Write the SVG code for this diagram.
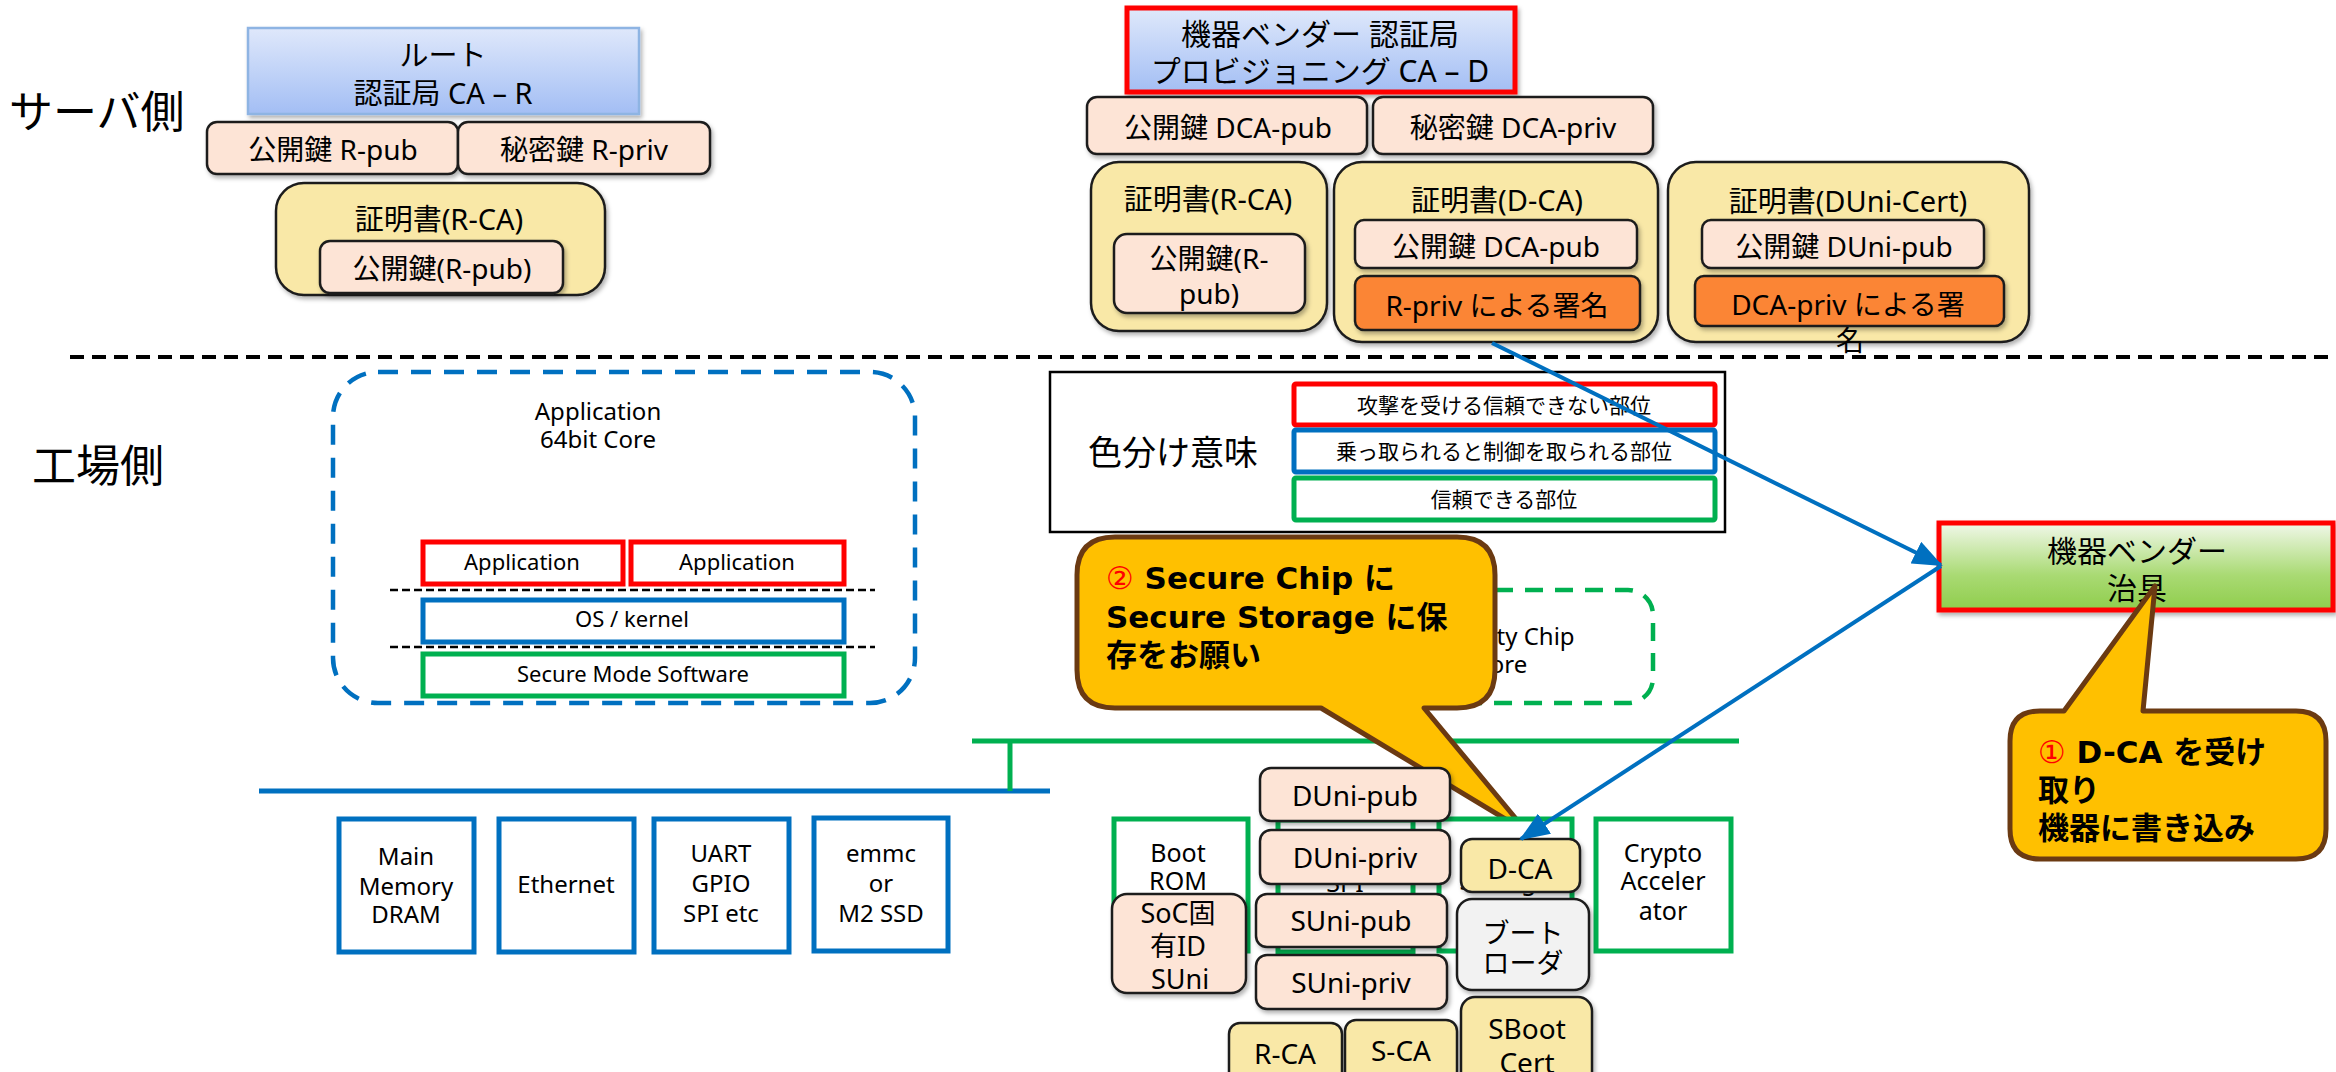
<svg xmlns="http://www.w3.org/2000/svg" width="2336" height="1072" viewBox="0 0 2336 1072">
<defs>
<linearGradient id="gBlue" x1="0" y1="0" x2="0" y2="1"><stop offset="0" stop-color="#dfe8fb"/><stop offset="1" stop-color="#a3bef4"/></linearGradient>
<linearGradient id="gGreen" x1="0" y1="0" x2="0" y2="1"><stop offset="0" stop-color="#f1f8ea"/><stop offset="0.6" stop-color="#a9da73"/><stop offset="1" stop-color="#8fcd4c"/></linearGradient>
<filter id="sh" x="-10%" y="-10%" width="130%" height="140%"><feDropShadow dx="2" dy="3" stdDeviation="2" flood-color="#000" flood-opacity="0.3"/></filter>
<marker id="ah" markerUnits="userSpaceOnUse" viewBox="0 0 30 24" refX="28" refY="12" markerWidth="30" markerHeight="24" orient="auto"><path d="M0,0 L30,12 L0,24 Z" fill="#0070c0"/></marker>
</defs>
<style>
.t{font-family:"Noto Sans","Noto Sans CJK JP",sans-serif;fill:#000;text-anchor:middle;dominant-baseline:central}
.s{text-anchor:start}
.key{fill:#fde4d6;stroke:#1e1e1e;stroke-width:2.5;filter:url(#sh)}
.cert{fill:#f9e8a7;stroke:#1e1e1e;stroke-width:2.5;filter:url(#sh)}
.sig{fill:#fb8535;stroke:#1e1e1e;stroke-width:2.5;filter:url(#sh)}
.gray{fill:#f2f2f2;stroke:#1e1e1e;stroke-width:2.5;filter:url(#sh)}
.red{fill:#fff;stroke:#ff0000;stroke-width:5}
.blu{fill:#fff;stroke:#0070c0;stroke-width:5}
.grn{fill:#fff;stroke:#00b050;stroke-width:5}
.call{fill:#ffc000;stroke:#6b3a12;stroke-width:5;stroke-linejoin:round}
.cb{font-family:"DejaVu Sans","Noto Sans CJK JP",sans-serif;font-weight:bold;fill:#000;dominant-baseline:central}
.conn{stroke:#0070c0;stroke-width:4;fill:none;marker-end:url(#ah)}
</style>
<rect width="2336" height="1072" fill="#fff"/>

<g id="labels">
<text class="t s" x="9" y="111" font-size="44">サーバ側</text>
<text class="t s" x="32" y="465" font-size="44">工場側</text>
</g>

<line id="separator" x1="70" y1="357" x2="2336" y2="357" stroke="#000" stroke-width="4" stroke-dasharray="14 8"/>

<g id="root-ca">
<rect x="248" y="28" width="391" height="86" fill="url(#gBlue)" stroke="#8eb4e3" stroke-width="2.5" filter="url(#sh)"/>
<text class="t" x="443" y="54" font-size="29">ルート</text>
<text class="t" x="443" y="92" font-size="29">認証局 CA – R</text>
</g>
<g id="r-pub"><rect class="key" x="207" y="122" width="251" height="52" rx="10"/><text class="t" x="333" y="149" font-size="28">公開鍵 R-pub</text></g>
<g id="r-priv"><rect class="key" x="458" y="122" width="252" height="52" rx="10"/><text class="t" x="584" y="149" font-size="28">秘密鍵 R-priv</text></g>
<g id="cert-rca">
<rect class="cert" x="276" y="183" width="329" height="112" rx="28"/>
<text class="t" x="439" y="218" font-size="29">証明書(R-CA)</text>
<rect class="key" x="320" y="241" width="243" height="52" rx="10"/>
<text class="t" x="442" y="268" font-size="28">公開鍵(R-pub)</text>
</g>

<g id="vendor-ca">
<rect x="1127" y="8" width="388" height="84" fill="url(#gBlue)" stroke="#ff0000" stroke-width="5" filter="url(#sh)"/>
<text class="t" x="1320" y="33" font-size="30">機器ベンダー 認証局</text>
<text class="t" x="1320" y="70" font-size="30">プロビジョニング CA – D</text>
</g>
<g id="dca-pub"><rect class="key" x="1087" y="97" width="280" height="57" rx="10"/><text class="t" x="1228" y="127" font-size="28">公開鍵 DCA-pub</text></g>
<g id="dca-priv"><rect class="key" x="1373" y="97" width="280" height="57" rx="10"/><text class="t" x="1513" y="127" font-size="28">秘密鍵 DCA-priv</text></g>
<g id="cert-rca-2">
<rect class="cert" x="1091" y="162" width="236" height="169" rx="28"/>
<text class="t" x="1208" y="198" font-size="29">証明書(R-CA)</text>
<rect class="key" x="1114" y="234" width="191" height="79" rx="13"/>
<text class="t" x="1209" y="258" font-size="28">公開鍵(R-</text>
<text class="t" x="1209" y="293" font-size="28">pub)</text>
</g>
<g id="cert-dca">
<rect class="cert" x="1334" y="162" width="324" height="180" rx="28"/>
<text class="t" x="1497" y="199" font-size="29">証明書(D-CA)</text>
<rect class="key" x="1355" y="220" width="282" height="48" rx="9"/>
<text class="t" x="1496" y="246" font-size="28">公開鍵 DCA-pub</text>
<rect class="sig" x="1355" y="276" width="285" height="54" rx="9"/>
<text class="t" x="1497" y="305" font-size="28">R-priv による署名</text>
</g>
<g id="cert-duni">
<rect class="cert" x="1668" y="162" width="361" height="180" rx="28"/>
<text class="t" x="1848" y="200" font-size="29">証明書(DUni-Cert)</text>
<rect class="key" x="1702" y="220" width="282" height="48" rx="9"/>
<text class="t" x="1844" y="246" font-size="28">公開鍵 DUni-pub</text>
<rect class="sig" x="1695" y="276" width="309" height="50" rx="9"/>
<text class="t" x="1848" y="304" font-size="28">DCA-priv による署</text>
<text class="t" x="1850" y="340" font-size="28">名</text>
</g>

<g id="legend">
<rect x="1050" y="372" width="675" height="160" fill="#fff" stroke="#000" stroke-width="2.5"/>
<text class="t" x="1173" y="452" font-size="34">色分け意味</text>
<rect class="red" x="1294" y="384" width="421" height="41" rx="2"/>
<text class="t" x="1504" y="405" font-size="21">攻撃を受ける信頼できない部位</text>
<rect class="blu" x="1294" y="430" width="421" height="42" rx="2"/>
<text class="t" x="1504" y="451" font-size="21">乗っ取られると制御を取られる部位</text>
<rect class="grn" x="1294" y="478" width="421" height="42" rx="2"/>
<text class="t" x="1504" y="499" font-size="21">信頼できる部位</text>
</g>

<g id="vendor-tool">
<rect x="1939" y="523" width="394" height="87" fill="url(#gGreen)" stroke="#ff0000" stroke-width="5" filter="url(#sh)"/>
<text class="t" x="2137" y="550" font-size="30">機器ベンダー</text>
<text class="t" x="2137" y="587" font-size="30">治具</text>
</g>

<g id="app-core">
<rect x="333" y="372" width="582" height="331" rx="45" fill="none" stroke="#0070c0" stroke-width="4.5" stroke-dasharray="20 13"/>
<text class="t" x="598" y="410" font-size="24">Application</text>
<text class="t" x="598" y="438" font-size="24">64bit Core</text>
<rect class="red" x="423" y="542" width="200" height="42" stroke-width="4"/>
<text class="t" x="522" y="561" font-size="22">Application</text>
<rect class="red" x="631" y="542" width="213" height="42" stroke-width="4"/>
<text class="t" x="737" y="561" font-size="22">Application</text>
<line x1="390" y1="590" x2="875" y2="590" stroke="#000" stroke-width="2.5" stroke-dasharray="8 4"/>
<rect class="blu" x="423" y="600" width="421" height="42" stroke-width="4"/>
<text class="t" x="632" y="618" font-size="22">OS / kernel</text>
<line x1="390" y1="647" x2="875" y2="647" stroke="#000" stroke-width="2.5" stroke-dasharray="8 4"/>
<rect class="grn" x="423" y="654" width="421" height="42" stroke-width="4"/>
<text class="t" x="633" y="673" font-size="22">Secure Mode Software</text>
</g>

<g id="buses">
<line x1="259" y1="791" x2="1050" y2="791" stroke="#0070c0" stroke-width="5"/>
<line x1="972" y1="741" x2="1739" y2="741" stroke="#00b050" stroke-width="5"/>
<line x1="1010" y1="741" x2="1010" y2="791" stroke="#00b050" stroke-width="5"/>
</g>

<g id="main-memory"><rect class="blu" x="339" y="819" width="135" height="133"/><text class="t" x="406" y="855" font-size="24">Main</text><text class="t" x="406" y="885" font-size="24">Memory</text><text class="t" x="406" y="913" font-size="24">DRAM</text></g>
<g id="ethernet"><rect class="blu" x="499" y="819" width="135" height="133"/><text class="t" x="566" y="883" font-size="24">Ethernet</text></g>
<g id="uart"><rect class="blu" x="654" y="819" width="135" height="133"/><text class="t" x="721" y="852" font-size="24">UART</text><text class="t" x="721" y="882" font-size="24">GPIO</text><text class="t" x="721" y="912" font-size="24">SPI etc</text></g>
<g id="emmc"><rect class="blu" x="814" y="818" width="134" height="133"/><text class="t" x="881" y="852" font-size="24">emmc</text><text class="t" x="881" y="882" font-size="24">or</text><text class="t" x="881" y="912" font-size="24">M2 SSD</text></g>

<g id="security-chip">
<rect x="1350" y="590" width="303" height="113" rx="25" fill="none" stroke="#00b050" stroke-width="4.5" stroke-dasharray="18 12"/>
<text class="t" x="1501" y="635" font-size="24">Security Chip</text>
<text class="t" x="1501" y="663" font-size="24">Core</text>
</g>

<g id="callout-2">
<path class="call" d="M1115,537 H1457 Q1495,537 1495,575 V670 Q1495,708 1457,708 H1424 L1527,832 L1321,708 H1115 Q1077,708 1077,670 V575 Q1077,537 1115,537 Z"/>
<text class="cb" x="1106" y="578" font-size="31"><tspan fill="#ff0000" font-weight="normal">②</tspan> Secure Chip に</text>
<text class="cb" x="1106" y="617" font-size="31">Secure Storage に保</text>
<text class="cb" x="1106" y="655" font-size="31">存をお願い</text>
</g>

<g id="boot-rom"><rect class="grn" x="1114" y="819" width="134" height="132"/><text class="t" x="1178" y="852" font-size="25">Boot</text><text class="t" x="1178" y="880" font-size="25">ROM</text></g>
<g id="spi"><rect class="grn" x="1278" y="820" width="135" height="132"/><text class="t" x="1345" y="882" font-size="25">SPI</text></g>
<g id="secure-storage"><rect class="grn" x="1439" y="819" width="133" height="132"/><text class="t" x="1505" y="880" font-size="25">Storage</text></g>
<g id="crypto"><rect class="grn" x="1596" y="819" width="135" height="132"/><text class="t" x="1663" y="852" font-size="25">Crypto</text><text class="t" x="1663" y="880" font-size="25">Acceler</text><text class="t" x="1663" y="910" font-size="25">ator</text></g>

<g id="duni-pub"><rect class="key" x="1260" y="768" width="190" height="53" rx="11"/><text class="t" x="1355" y="795" font-size="28">DUni-pub</text></g>
<g id="duni-priv"><rect class="key" x="1260" y="830" width="190" height="54" rx="11"/><text class="t" x="1355" y="857" font-size="28">DUni-priv</text></g>
<g id="suni-pub"><rect class="key" x="1256" y="894" width="191" height="53" rx="11"/><text class="t" x="1351" y="920" font-size="28">SUni-pub</text></g>
<g id="suni-priv"><rect class="key" x="1256" y="955" width="191" height="54" rx="11"/><text class="t" x="1351" y="982" font-size="28">SUni-priv</text></g>
<g id="soc-id"><rect class="key" x="1112" y="894" width="134" height="99" rx="15"/><text class="t" x="1178" y="912" font-size="27">SoC固</text><text class="t" x="1178" y="945" font-size="27">有ID</text><text class="t" x="1180" y="978" font-size="27">SUni</text></g>
<g id="r-ca"><rect class="cert" x="1229" y="1023" width="113" height="62" rx="11"/><text class="t" x="1285" y="1053" font-size="28">R-CA</text></g>
<g id="s-ca"><rect class="cert" x="1345" y="1020" width="112" height="65" rx="11"/><text class="t" x="1401" y="1050" font-size="28">S-CA</text></g>
<g id="sboot-cert"><rect class="cert" x="1461" y="997" width="131" height="90" rx="14"/><text class="t" x="1527" y="1028" font-size="28">SBoot</text><text class="t" x="1527" y="1062" font-size="28">Cert</text></g>
<g id="d-ca"><rect class="cert" x="1461" y="839" width="119" height="53" rx="11"/><text class="t" x="1520" y="868" font-size="28">D-CA</text></g>
<g id="bootloader"><rect class="gray" x="1457" y="899" width="132" height="91" rx="15"/><text class="t" x="1523" y="932" font-size="27">ブート</text><text class="t" x="1523" y="962" font-size="27">ローダ</text></g>

<g id="callout-1">
<path class="call" d="M2040,711 H2064 L2155,586 L2143,711 H2296 Q2326,711 2326,741 V829 Q2326,859 2296,859 H2040 Q2010,859 2010,829 V741 Q2010,711 2040,711 Z"/>
<text class="cb" x="2038" y="752" font-size="31"><tspan fill="#ff0000" font-weight="normal">①</tspan> D-CA を受け</text>
<text class="cb" x="2038" y="790" font-size="31">取り</text>
<text class="cb" x="2038" y="828" font-size="31">機器に書き込み</text>
</g>

<g id="connectors">
<line class="conn" x1="1492" y1="343" x2="1941" y2="565"/>
<line class="conn" x1="1941" y1="566" x2="1521" y2="839"/>
</g>
</svg>
